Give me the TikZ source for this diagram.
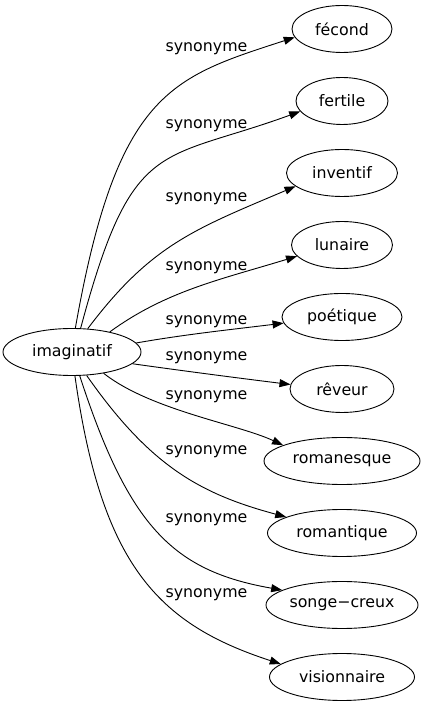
\documentclass[tikz,border=0pt]{standalone}
\usepackage{fontspec}
\setmainfont{DejaVu Sans}
\usetikzlibrary{shapes.geometric,arrows.meta}
\begin{document}
\begin{tikzpicture}[x=1pt,y=1pt,
  every node/.style={font=\fontsize{15.8}{18}\selectfont},
  word/.style={draw, ellipse, inner sep=0pt, minimum height=47pt, line width=0.9pt},
  rel/.style={-{Triangle[length=11pt,width=8pt]}, line width=0.9pt},
  lab/.style={anchor=base, inner sep=0pt}]
\useasboundingbox (0,0) rectangle (426,707);
\node[word, minimum width=138pt] (imag) at (72,355) {imaginatif};
\node[word, minimum width=100pt] (fecond) at (342,678) {fécond};
\node[word, minimum width=92pt] (fertile) at (342,606) {fertile};
\node[word, minimum width=111pt] (inventif) at (342,534) {inventif};
\node[word, minimum width=101pt] (lunaire) at (342,462) {lunaire};
\node[word, minimum width=120pt] (poetique) at (342,390) {poétique};
\node[word, minimum width=104pt] (reveur) at (342,318) {rêveur};
\node[word, minimum width=156pt] (romanesque) at (342,246) {romanesque};
\node[word, minimum width=149pt] (romantique) at (342,174) {romantique};
\node[word, minimum width=152pt] (songe) at (342,102) {songe−creux};
\node[word, minimum width=145pt] (visionnaire) at (342,30) {visionnaire};

\draw[rel] (imag.82) to[out=80,in=198,out distance=240,in distance=130] (fecond.190);
\draw[rel] (imag.70) to[out=75,in=200,out distance=200,in distance=150] (fertile.194);
\draw[rel] (imag.56) to[out=53,in=203,out distance=105,in distance=110] (inventif.196);
\draw[rel] (imag.28) to[out=36,in=197,out distance=70,in distance=80] (lunaire.194);
\draw[rel] (imag.8) to[out=10,in=187,out distance=50,in distance=50] (poetique.186);
\draw[rel] (imag.349) to[out=-8,in=173,out distance=50,in distance=50] (reveur.175);
\draw[rel] (imag.326) to[out=-38,in=155,out distance=60,in distance=50] (romanesque.165);
\draw[rel] (imag.302) to[out=-55,in=165,out distance=110,in distance=90] (romantique.164);
\draw[rel] (imag.288) to[out=-72,in=170,out distance=160,in distance=110] (songe.166);
\draw[rel] (imag.277) to[out=-82,in=162,out distance=190,in distance=130] (visionnaire.168);

\node[lab] (l1) at (206.5,655) {synonyme};
\node[lab] (l2) at (206.5,578) {synonyme};
\node[lab] (l3) at (206.5,505) {synonyme};
\node[lab] (l4) at (206.5,436) {synonyme};
\node[lab] (l5) at (206.5,382) {synonyme};
\node[lab] (l6) at (206.5,346) {synonyme};
\node[lab] (l7) at (206.5,307) {synonyme};
\node[lab] (l8) at (206.5,252) {synonyme};
\node[lab] (l9) at (206.5,184) {synonyme};
\node[lab] (l10) at (206.5,109) {synonyme};
\end{tikzpicture}
\end{document}
